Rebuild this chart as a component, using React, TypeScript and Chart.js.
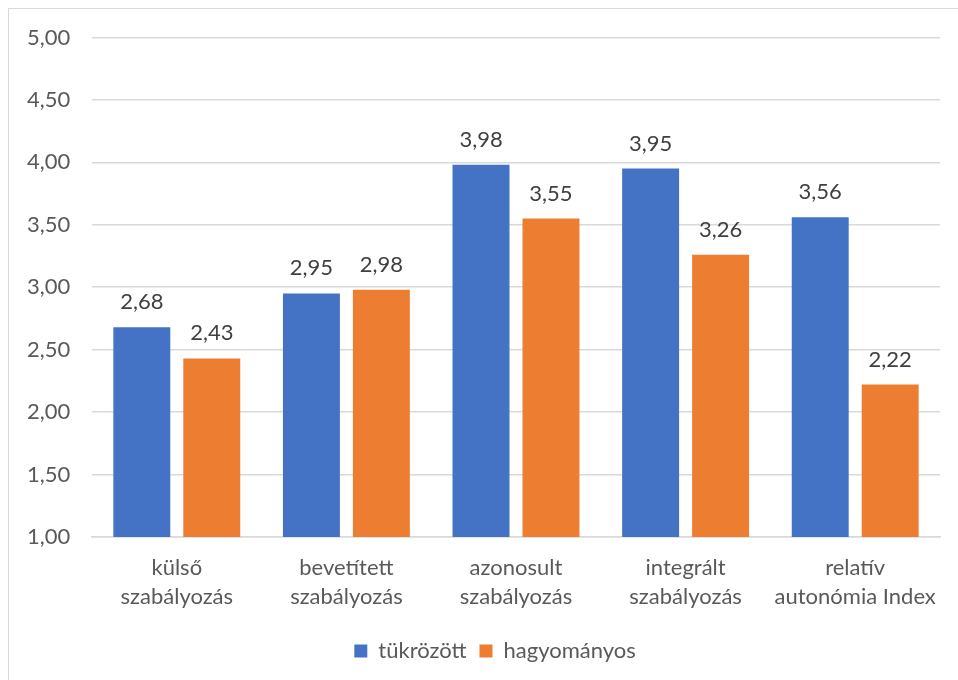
import React, { useEffect, useRef } from "react";
import { Chart, registerables } from "chart.js";

Chart.register(...registerables);

const categories: string[][] = [
  ["külső", "szabályozás"],
  ["bevetített", "szabályozás"],
  ["azonosult", "szabályozás"],
  ["integrált", "szabályozás"],
  ["relatív", "autonómia Index"],
];
const tukrozott = [2.68, 2.95, 3.98, 3.95, 3.56];
const hagyomanyos = [2.43, 2.98, 3.55, 3.26, 2.22];
const seriesNames = ["tükrözött", "hagyományos"];

const FONT = "Lato, 'Open Sans', sans-serif";
const fmt = (v: number) => v.toFixed(2).replace(".", ",");

// Value labels above each bar, in the same comma-decimal format as the axis
const valueLabels = {
  id: "valueLabels",
  afterDatasetsDraw(chart: any) {
    const ctx = chart.ctx;
    ctx.save();
    ctx.font = `22px ${FONT}`;
    ctx.fillStyle = "#404040";
    ctx.textAlign = "center";
    ctx.textBaseline = "alphabetic";
    chart.data.datasets.forEach((ds: any, i: number) => {
      const meta = chart.getDatasetMeta(i);
      meta.data.forEach((bar: any, j: number) => {
        ctx.fillText(fmt(ds.data[j]), bar.x, bar.y - 18);
      });
    });
    ctx.restore();
  },
};

export default function App() {
  const ref = useRef<HTMLCanvasElement>(null);
  useEffect(() => {
    if (!ref.current) return;
    const chart = new Chart(ref.current, {
      type: "bar",
      data: {
        labels: categories,
        datasets: [
          { label: seriesNames[0], data: tukrozott, backgroundColor: "#4472C4" },
          { label: seriesNames[1], data: hagyomanyos, backgroundColor: "#ED7D31" },
        ],
      },
      options: {
        animation: false,
        responsive: false,
        layout: { padding: { top: 1, right: 0, bottom: 7, left: 18 } },
        datasets: {
          bar: { categoryPercentage: 0.825, barPercentage: 0.814 },
        },
        scales: {
          x: {
            grid: { display: false, drawTicks: false },
            border: { display: true, color: "#d9d9d9", width: 1.5 },
            ticks: {
              color: "#595959",
              font: { family: FONT, size: 22, lineHeight: 1.32 },
              padding: 16,
              maxRotation: 0,
              autoSkip: false,
            },
          },
          y: {
            min: 1,
            max: 5,
            afterFit: (s: any) => { s.width = 65; },
            grid: { color: "#d9d9d9", lineWidth: 1.5, drawTicks: false },
            border: { display: false },
            ticks: {
              stepSize: 0.5,
              color: "#595959",
              font: { family: FONT, size: 22 },
              padding: 15.3,
              crossAlign: "far",
              callback: (v: any) => fmt(Number(v)),
            },
          },
          // empty right-hand margin of the frame
          yRight: {
            position: "right",
            grid: { display: false, drawTicks: false },
            border: { display: false },
            ticks: { display: false },
            afterFit: (s: any) => { s.width = 23; },
          },
        },
        plugins: {
          legend: {
            position: "bottom",
            labels: {
              color: "#595959",
              font: { family: FONT, size: 22 },
              boxWidth: 13,
              boxHeight: 13,
              padding: 13,
            },
          },
          tooltip: { enabled: false },
        },
      },
      plugins: [valueLabels],
    });
    return () => chart.destroy();
  }, []);

  return (
    <div
      style={{
        position: "fixed",
        left: 8,
        top: 8,
        width: 956,
        height: 672,
        borderLeft: "1.5px solid #d9d9d9",
        borderTop: "1.5px solid #d9d9d9",
        boxSizing: "border-box",
        background: "#fff",
      }}
    >
      <canvas ref={ref} width={954} height={670} style={{ display: "block" }} />
    </div>
  );
}
